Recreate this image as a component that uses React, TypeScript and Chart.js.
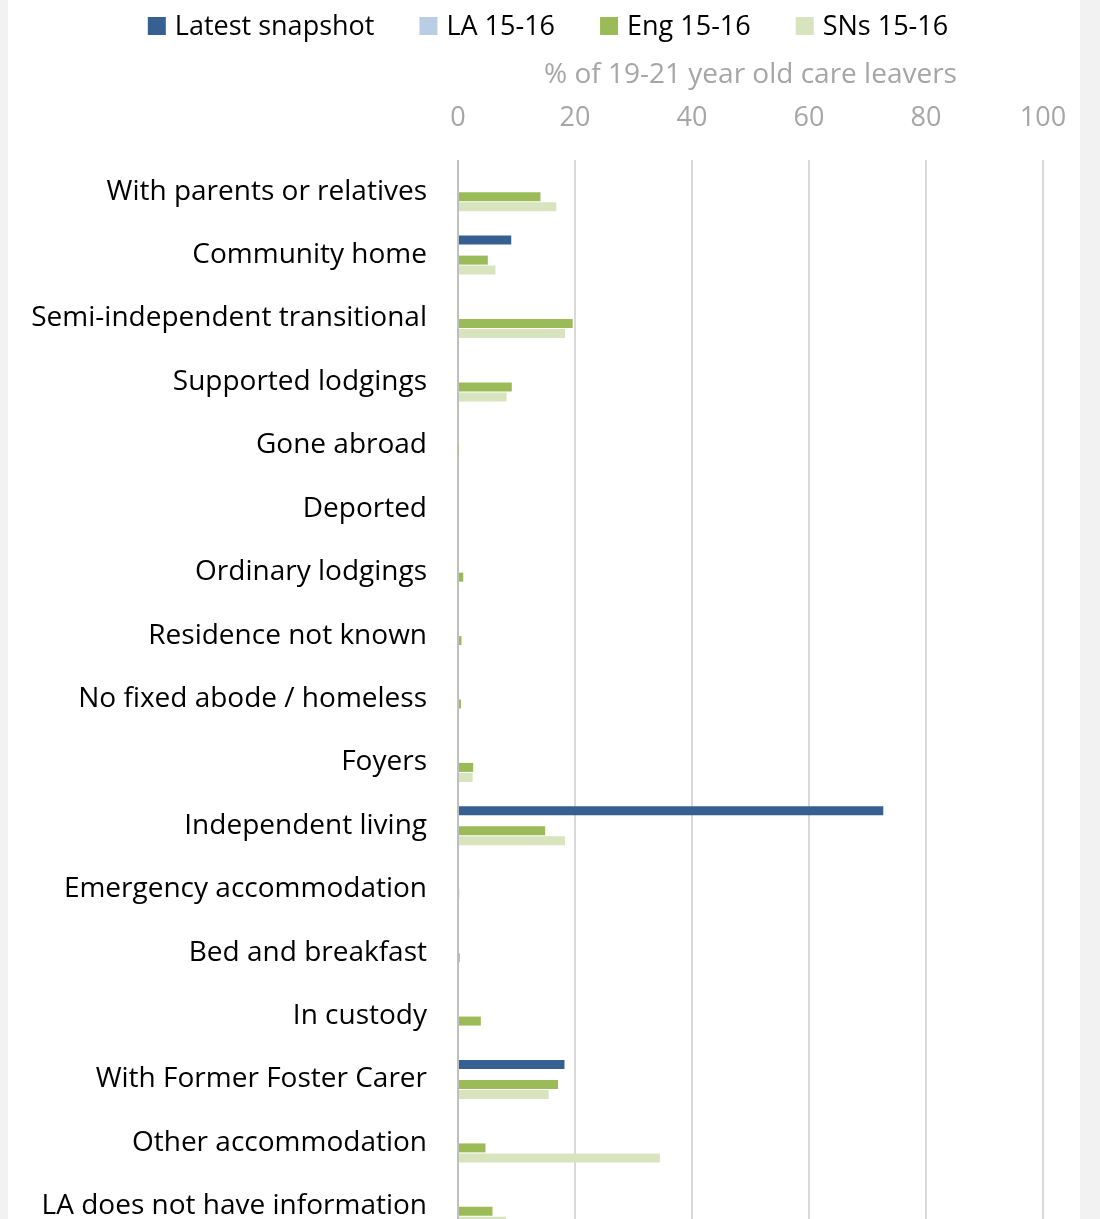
import React, { useEffect, useRef } from 'react';
import { Chart, registerables } from 'chart.js';

Chart.register(...registerables);

const categories = [
  'With parents or relatives',
  'Community home',
  'Semi-independent transitional',
  'Supported lodgings',
  'Gone abroad',
  'Deported',
  'Ordinary lodgings',
  'Residence not known',
  'No fixed abode / homeless',
  'Foyers',
  'Independent living',
  'Emergency accommodation',
  'Bed and breakfast',
  'In custody',
  'With Former Foster Carer',
  'Other accommodation',
  'LA does not have information',
];

const latestSnapshot = [0, 9.1, 0, 0, 0, 0, 0, 0, 0, 0, 72.7, 0, 0, 0, 18.2, 0, 0];
const la1516 = [0, 0, 0, 0, 0, 0, 0, 0, 0, 0, 0, 0, 0, 0, 0, 0, 0];
const eng1516 = [14.1, 5.1, 19.6, 9.2, 0.1, 0, 0.9, 0.6, 0.5, 2.6, 14.9, 0.2, 0.3, 3.9, 17.1, 4.7, 5.9];
const sns1516 = [16.8, 6.4, 18.3, 8.3, 0, 0, 0, 0, 0, 2.5, 18.3, 0, 0, 0, 15.5, 34.5, 8.2];

const seriesNames = ['Latest snapshot', 'LA 15-16', 'Eng 15-16', 'SNs 15-16'];
const seriesColors = ['#376092', '#B9CDE5', '#9BBB59', '#D7E4BD'];
const xTickValues = [0, 20, 40, 60, 80, 100];
const xAxisTitle = '% of 19-21 year old care leavers';

const FONT = "'Open Sans', 'Noto Sans', sans-serif";
const FONT_SIZE = 27;

const legendPlugin = {
  id: 'customLegend',
  afterDraw(chart: any) {
    const ctx = chart.ctx as CanvasRenderingContext2D;
    ctx.save();
    ctx.font = `${FONT_SIZE}px ${FONT}`;
    const box = 18;
    const gapText = 9;
    const gapItem = 45;
    const items = chart.data.datasets.map((ds: any) => ({
      label: ds.label as string,
      color: ds.backgroundColor as string,
      w: ctx.measureText(ds.label).width,
    }));
    const total =
      items.reduce((s: number, it: any) => s + box + gapText + it.w, 0) + gapItem * (items.length - 1);
    let x = chart.width / 2 + 4 - total / 2;
    const cy = 26;
    ctx.textBaseline = 'middle';
    ctx.textAlign = 'left';
    items.forEach((it: any) => {
      ctx.fillStyle = it.color;
      ctx.fillRect(x, cy - box / 2, box, box);
      x += box + gapText;
      ctx.fillStyle = '#000000';
      ctx.fillText(it.label, x, cy + 1);
      x += it.w + gapItem;
    });
    ctx.restore();
  },
};

export default function App() {
  const canvasRef = useRef<HTMLCanvasElement | null>(null);

  useEffect(() => {
    if (!canvasRef.current) return;
    const seriesData = [latestSnapshot, la1516, eng1516, sns1516];
    const chart = new Chart(canvasRef.current, {
      type: 'bar',
      data: {
        labels: categories,
        datasets: seriesNames.map((name, i) => ({
          label: name,
          data: seriesData[i],
          backgroundColor: seriesColors[i],
          borderWidth: 0,
          barPercentage: 0.9,
          categoryPercentage: 0.631,
        })),
      },
      options: {
        indexAxis: 'y',
        responsive: false,
        animation: false,
        layout: { padding: { top: 58, right: 37, left: 0, bottom: 0 } },
        plugins: {
          legend: { display: false },
          tooltip: { enabled: false },
        },
        scales: {
          x: {
            position: 'top',
            min: 0,
            max: 100,
            afterBuildTicks: (scale: any) => {
              scale.ticks = xTickValues.map((v) => ({ value: v }));
            },
            afterFit: (scale: any) => {
              scale.height = 102;
              scale.paddingLeft = 0;
              scale.paddingRight = 0;
            },
            border: { display: false },
            grid: {
              drawTicks: false,
              lineWidth: 2,
              color: (c: any) => (c.tick && c.tick.value === 0 ? '#BFBFBF' : '#D9D9D9'),
            },
            ticks: {
              padding: 25,
              color: '#A6A6A6',
              font: { family: FONT, size: FONT_SIZE },
            },
            title: {
              display: true,
              text: xAxisTitle,
              color: '#A6A6A6',
              font: { family: FONT, size: 28 },
              padding: { top: 0, bottom: 9 },
            },
          },
          y: {
            afterFit: (scale: any) => {
              scale.width = 450;
              scale.paddingTop = 0;
              scale.paddingBottom = 0;
            },
            border: { display: false },
            grid: { display: false, drawTicks: false },
            ticks: {
              padding: 31,
              color: '#000000',
              autoSkip: false,
              font: { family: FONT, size: 28 },
            },
          },
        },
      },
      plugins: [legendPlugin],
    } as any);
    return () => chart.destroy();
  }, []);

  return (
    <div style={{ position: 'fixed', inset: 0, background: '#F2F2F2', overflow: 'hidden' }}>
      <div
        style={{
          position: 'absolute',
          left: 8,
          top: 0,
          width: 1072,
          height: 1219,
          background: '#FFFFFF',
          overflow: 'hidden',
        }}
      >
        <canvas ref={canvasRef} width={1072} height={1238} style={{ display: 'block' }} />
      </div>
    </div>
  );
}
